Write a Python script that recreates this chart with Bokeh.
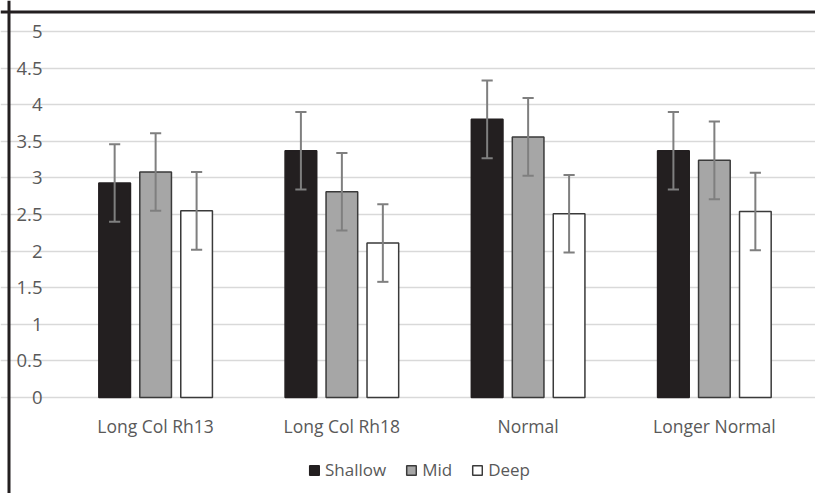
from bokeh.plotting import figure
from bokeh.models import (Range1d, Legend, LegendItem, ColumnDataSource, FixedTicker,
                          LinearAxis, Span)
from bokeh.transform import dodge
from bokeh.embed import file_html
from bokeh.resources import INLINE

categories = ["Long Col Rh13", "Long Col Rh18", "Normal", "Longer Normal"]
series_names = ["Shallow", "Mid", "Deep"]
shallow = [2.93, 3.37, 3.80, 3.37]
mid = [3.08, 2.81, 3.56, 3.24]
deep = [2.55, 2.11, 2.51, 2.54]
shallow_err = [0.53, 0.53, 0.53, 0.53]
mid_err = [0.53, 0.53, 0.53, 0.53]
deep_err = [0.53, 0.53, 0.53, 0.53]
y_ticks = [0, 0.5, 1, 1.5, 2, 2.5, 3, 3.5, 4, 4.5, 5]
y_tick_labels = ["0", "0.5", "1", "1.5", "2", "2.5", "3", "3.5", "4", "4.5", "5"]

TEXT = "#595959"
FONT = "Open Sans"

W, H = 815, 493
# plot area (pixels) inside the canvas
PL, PR, PT, PB = 62, 807, 31, 397
n = len(categories)
xpx = (PR - PL) / n          # pixels per category
ypx = (PB - PT) / 5.0        # pixels per unit
x_range = Range1d(-PL / xpx, n + (W - PR) / xpx)
y_range = Range1d(-(H - PB) / ypx, 5 + PT / ypx)

p = figure(x_range=x_range, y_range=y_range, width=W, height=H,
           output_backend="svg", toolbar_location=None,
           x_axis_location=None, y_axis_location=None,
           min_border=0, min_border_left=0, min_border_right=0,
           min_border_top=0, min_border_bottom=0)
p.outline_line_color = None
p.background_fill_color = "white"
p.border_fill_color = "white"

p.xgrid.grid_line_color = None
p.ygrid.grid_line_color = "#d9d9d9"
p.ygrid.grid_line_width = 1.5
p.ygrid.bounds = (0, n)
p.ygrid.ticker = FixedTicker(ticks=y_ticks)

yaxis = LinearAxis(ticker=FixedTicker(ticks=y_ticks), fixed_location=0, bounds=(0, 5))
yaxis.major_label_overrides = {t: l for t, l in zip(y_ticks, y_tick_labels)}
yaxis.axis_line_color = None
yaxis.major_tick_line_color = None
yaxis.minor_tick_line_color = None
yaxis.major_label_standoff = 14
yaxis.major_label_text_font = FONT
yaxis.major_label_text_font_size = "18.5px"
yaxis.major_label_text_color = TEXT
p.add_layout(yaxis, "left")

cat_x = [i + 0.5 for i in range(n)]
xaxis = LinearAxis(ticker=FixedTicker(ticks=cat_x), fixed_location=0, bounds=(0, n))
xaxis.major_label_overrides = {t: c for t, c in zip(cat_x, categories)}
xaxis.axis_line_color = None
xaxis.major_tick_line_color = None
xaxis.minor_tick_line_color = None
xaxis.major_label_standoff = 10
xaxis.major_label_text_font = FONT
xaxis.major_label_text_font_size = "17.5px"
xaxis.major_label_text_color = TEXT
p.add_layout(xaxis, "below")

offsets = [-0.22, 0.0, 0.22]
fills = ["#231f20", "#a6a6a6", "#ffffff"]
lines = ["#231f20", "#3a3a3a", "#3a3a3a"]
values = [shallow, mid, deep]
errs = [shallow_err, mid_err, deep_err]

items = []
for name, off, fc, lc, vals, er in zip(series_names, offsets, fills, lines, values, errs):
    src = ColumnDataSource(dict(x=cat_x, top=vals,
                                lo=[v - e for v, e in zip(vals, er)],
                                hi=[v + e for v, e in zip(vals, er)]))
    r = p.vbar(x=dodge("x", off), top="top", width=0.17, source=src,
               fill_color=fc, line_color=lc, line_width=1.5)
    items.append(LegendItem(label=name, renderers=[r]))
    p.segment(x0=dodge("x", off), y0="lo", x1=dodge("x", off), y1="hi", source=src,
              line_color="#7f7f7f", line_width=2)
    for yk in ["lo", "hi"]:
        p.segment(x0=dodge("x", off - 0.03), y0=yk, x1=dodge("x", off + 0.03), y1=yk,
                  source=src, line_color="#7f7f7f", line_width=2)

legend = Legend(items=items, orientation="horizontal", location=(308, 12),
                glyph_width=12, glyph_height=12, label_standoff=5, spacing=19,
                padding=0, margin=0, border_line_color=None, background_fill_alpha=0,
                label_text_font=FONT, label_text_font_size="17px", label_text_color=TEXT)
p.add_layout(legend)

# chart border (top and left edges of the surrounding frame)
p.add_layout(Span(location=5 + (PT - 11.5) / ypx, dimension="width",
                  line_color="#231f20", line_width=3))
p.add_layout(Span(location=(8.5 - PL) / xpx, dimension="height",
                  line_color="#231f20", line_width=3))

open("out.html", "w").write(file_html(p, INLINE))
